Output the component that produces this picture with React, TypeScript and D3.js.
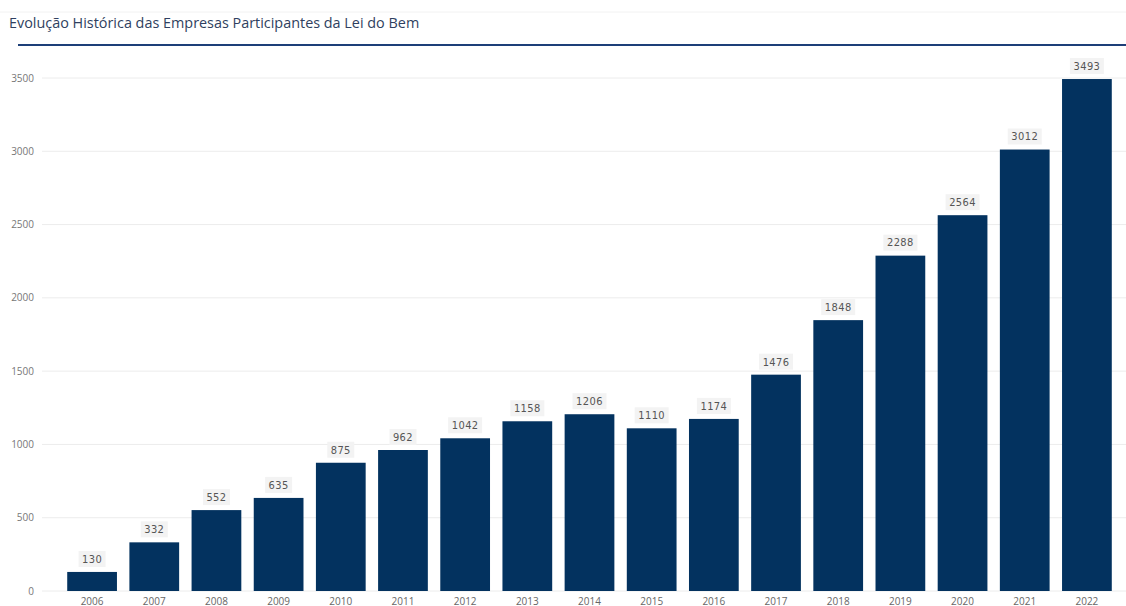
import React from "react";
import * as d3 from "d3";

const years = ["2006","2007","2008","2009","2010","2011","2012","2013","2014","2015","2016","2017","2018","2019","2020","2021","2022"];
const companies = [130,332,552,635,875,962,1042,1158,1206,1110,1174,1476,1848,2288,2564,3012,3493];
const yTicks = [0,500,1000,1500,2000,2500,3000,3500];
const title = "Evolução Histórica das Empresas Participantes da Lei do Bem";

const W = 1126, H = 606;

export default function App() {
  const x = d3.scaleBand<string>().domain(years).range([61, 1118]).paddingInner(0.2).paddingOuter(0.1);
  const y = d3.scaleLinear().domain([0, 3500]).range([591, 78]);
  const font = "'Open Sans', 'Noto Sans', sans-serif";
  const labelFont = "'DejaVu Sans Condensed', 'Roboto', sans-serif";
  return (
    <svg width={W} height={H} style={{ position: "absolute", left: 0, top: 0, background: "#fff" }}>
      <line x1={0} x2={W} y1={12} y2={12} stroke="#f2f2f2" strokeWidth={1} />
      <text x={9} y={28} fontFamily={font} fontSize={14.4} fill="#2f3f60">{title}</text>
      <line x1={18} x2={W} y1={45} y2={45} stroke="#1d3f78" strokeWidth={2} />
      {yTicks.map(t => (
        <g key={t}>
          <line x1={42} x2={W} y1={y(t)} y2={y(t)} stroke="#ececec" strokeWidth={1} />
          <text x={34} y={y(t)} dy="0.35em" textAnchor="end" fontFamily={font} fontSize={10} fill="#777">{t}</text>
        </g>
      ))}
      {years.map((yr, i) => {
        const v = companies[i];
        const bx = x(yr)!;
        const bw = x.bandwidth();
        const cx = bx + bw / 2;
        const top = y(v);
        const label = String(v);
        const boxW = label.length * 7 + 6;
        return (
          <g key={yr}>
            <rect x={bx} y={top} width={bw} height={y(0) - top} fill="#03325f" />
            <rect x={cx - boxW / 2} y={top - 21} width={boxW} height={16} fill="#f3f3f3" />
            <text x={cx} y={top - 13} dy="0.35em" textAnchor="middle" fontFamily={labelFont} fontSize={11} letterSpacing={0.4} fill="#555">{label}</text>
            <text x={cx} y={601} dy="0.35em" textAnchor="middle" fontFamily={font} fontSize={10} fill="#666">{yr}</text>
          </g>
        );
      })}
    </svg>
  );
}
